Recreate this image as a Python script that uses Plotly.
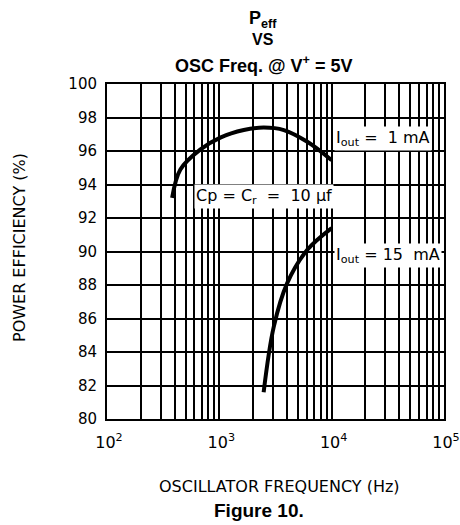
import plotly.graph_objects as go

# curves (Hz, %)
freq_1ma = [380, 450, 680, 1020, 1650, 2480, 3750, 6070, 10000]
eff_1ma = [93.2, 94.9, 96.1, 96.8, 97.25, 97.4, 97.25, 96.55, 95.45]
freq_15ma = [2480, 3050, 4010, 6070, 10000]
eff_15ma = [81.6, 85.5, 88.1, 90.1, 91.4]

x_ticks = [100, 1000, 10000, 100000]
x_ticktext = ["10<sup>2</sup>", "10<sup>3</sup>", "10<sup>4</sup>", "10<sup>5</sup>"]
y_ticks = list(range(80, 101, 2))

thin = "DejaVu Sans"
bold = "Liberation Sans"

fig = go.Figure()
fig.add_trace(go.Scatter(x=freq_1ma, y=eff_1ma, mode="lines", line=dict(color="black", width=4, shape="spline")))
fig.add_trace(go.Scatter(x=freq_15ma, y=eff_15ma, mode="lines", line=dict(color="black", width=4, shape="spline")))

fig.update_xaxes(type="log", range=[2, 5], tickvals=x_ticks, ticktext=x_ticktext,
                 showgrid=True, gridcolor="black", gridwidth=1.5,
                 minor=dict(dtick="D1", showgrid=True, gridcolor="black", gridwidth=1.5, ticks=""),
                 showline=True, linecolor="black", linewidth=2, mirror=True,
                 ticks="", ticklabelstandoff=8, ticklabelshift=2, ticklabeloverflow="allow",
                 tickfont=dict(family=thin, size=16, color="black"), zeroline=False)
fig.update_yaxes(range=[80, 100], tickvals=y_ticks, showgrid=True, gridcolor="black", gridwidth=1.5,
                 showline=True, linecolor="black", linewidth=2, mirror=True,
                 ticks="", ticklabelstandoff=5,
                 tickfont=dict(family=thin, size=15, color="black"), zeroline=False)

# stacked title lines (pixel y of each line centre)
title_lines = ["<b>P<sub>eff</sub></b>", "<b>VS</b>", "<b>OSC Freq. @ V<sup>+</sup> = 5V</b>"]
title_y = [19, 39, 64]
title_size = [18, 16, 18]
for t, ty, ts in zip(title_lines, title_y, title_size):
    fig.add_annotation(text=t, xref="paper", x=(263 - 107) / 337, yref="paper",
                       y=1 + (84 - ty) / 335, showarrow=False, yanchor="middle",
                       font=dict(family=bold, size=ts, color="black"))

fig.add_annotation(text="OSCILLATOR FREQUENCY (Hz)", xref="paper", yref="paper", x=(279 - 107) / 337,
                   y=-(487 - 419) / 335, showarrow=False, yanchor="middle",
                   font=dict(family=thin, size=16, color="black"))
fig.add_annotation(text="<b>Figure 10.</b>", xref="paper", yref="paper", x=(259 - 107) / 337,
                   y=-(510 - 419) / 335, showarrow=False, yanchor="middle",
                   font=dict(family=bold, size=19, color="black"))
fig.add_annotation(text="POWER EFFICIENCY (%)", xref="paper", yref="paper", x=-(107 - 20) / 337,
                   y=(419 - 248) / 335, textangle=-90, showarrow=False, xanchor="center", yanchor="middle",
                   font=dict(family=thin, size=16, color="black"))

lab_font = dict(family=thin, size=16, color="black")
fig.add_annotation(text="I<sub>out</sub>&nbsp;=&nbsp; 1 mA", x=4.02, y=96.75, xanchor="left", showarrow=False,
                   bgcolor="white", font=lab_font)
fig.add_annotation(text="Cp = C<sub>r</sub>&nbsp; =&nbsp; 10 μf", x=4.02, y=93.3, xanchor="right", showarrow=False,
                   bgcolor="white", font=lab_font)
fig.add_annotation(text="I<sub>out</sub> = 15&nbsp; mA", x=4.02, y=89.75, xanchor="left", showarrow=False,
                   bgcolor="white", font=lab_font)

fig.update_layout(width=460, height=525, margin=dict(l=107, r=16, t=84, b=106, autoexpand=False),
                  paper_bgcolor="white", plot_bgcolor="white", showlegend=False)
fig.write_html("out.html", config={"displayModeBar": False},
               post_script="document.body.style.margin='0';")
